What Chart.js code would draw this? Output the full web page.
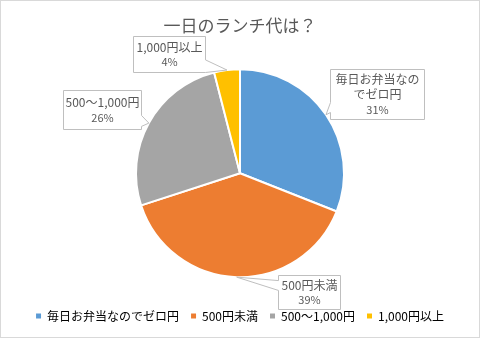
<!DOCTYPE html>
<html>
<head>
<meta charset="utf-8">
<script src="https://cdn.jsdelivr.net/npm/chart.js@4"></script>
<style>
  html, body { margin: 0; padding: 0; background: #fff; }
  #wrap { width: 480px; height: 338px; position: relative; }
</style>
</head>
<body>
<div id="wrap"><canvas id="pie" width="480" height="338"></canvas></div>
<script>
// lunch budget pie

const titleText = '一日のランチ代は？';
const categories = ['毎日お弁当なのでゼロ円', '500円未満', '500～1,000円', '1,000円以上'];
const calloutNames = [['毎日お弁当なの', 'でゼロ円'], ['500円未満'], ['500～1,000円'], ['1,000円以上']];
const values = [31, 39, 26, 4];
const colors = ['#5B9BD5', '#ED7D31', '#A5A5A5', '#FFC000'];

const FONT = "'Noto Sans CJK JP', 'Noto Sans', sans-serif";
const TEXT = '#595959';

// callout box placement relative to the slice tip (styling, not data)
const calloutBoxes = [
  { dx: 4,   dy: -46, w: 94, h: 50, side: 'left',  b0: 0.66, b1: 0.86 },
  { dx: 41,  dy: -2,  w: 62, h: 34, side: 'left',  b0: 0.15, b1: 0.44 },
  { dx: -86, dy: -33, w: 78, h: 39, side: 'right', b0: 0.64, b1: 0.92 },
  { dx: -94, dy: -34, w: 72, h: 36, side: 'right', b0: 0.65, b1: 1.0 }
];

const frame = {
  id: 'frame',
  beforeDraw(chart) {
    const ctx = chart.ctx;
    ctx.save();
    ctx.fillStyle = '#fff';
    ctx.fillRect(0, 0, chart.width, chart.height);
    ctx.strokeStyle = '#d9d9d9';
    ctx.lineWidth = 1;
    ctx.strokeRect(0.5, 0.5, chart.width - 1, chart.height - 1);
    ctx.restore();
  }
};

const callouts = {
  id: 'callouts',
  afterDatasetsDraw(chart) {
    const ctx = chart.ctx;
    const meta = chart.getDatasetMeta(0);
    const total = values.reduce((a, b) => a + b, 0);
    ctx.save();
    meta.data.forEach((arc, i) => {
      const p = arc.getProps(['x', 'y', 'startAngle', 'endAngle', 'outerRadius'], true);
      const mid = (p.startAngle + p.endAngle) / 2;
      const tx = p.x + Math.cos(mid) * p.outerRadius;
      const ty = p.y + Math.sin(mid) * p.outerRadius;
      const b = calloutBoxes[i];
      const L = Math.round(tx + b.dx) + 0.5, T = Math.round(ty + b.dy) + 0.5;
      const R = L + b.w, B = T + b.h;
      ctx.beginPath();
      if (b.side === 'left') {
        ctx.moveTo(L, T); ctx.lineTo(R, T); ctx.lineTo(R, B); ctx.lineTo(L, B);
        ctx.lineTo(L, T + b.h * b.b1); ctx.lineTo(tx, ty); ctx.lineTo(L, T + b.h * b.b0);
      } else {
        ctx.moveTo(L, T); ctx.lineTo(R, T); ctx.lineTo(R, T + b.h * b.b0); ctx.lineTo(tx, ty);
        ctx.lineTo(R, T + b.h * b.b1); ctx.lineTo(R, B); ctx.lineTo(L, B);
      }
      ctx.closePath();
      ctx.fillStyle = '#fff';
      ctx.fill();
      ctx.strokeStyle = '#bfbfbf';
      ctx.lineWidth = 1;
      ctx.stroke();

      const names = calloutNames[i];
      const lines = names.concat([Math.round(values[i] / total * 100) + '%']);
      const lh = 15;
      ctx.fillStyle = TEXT;
      ctx.textAlign = 'center';
      ctx.textBaseline = 'middle';
      const cx = L + b.w / 2;
      let y = T + b.h / 2 - (lines.length - 1) * lh / 2;
      lines.forEach((t, k) => {
        ctx.font = (k < names.length ? '12px ' : '11px ') + FONT;
        ctx.fillText(t, cx, y);
        y += lh;
      });
    });
    ctx.restore();
  }
};

new Chart(document.getElementById('pie'), {
  type: 'pie',
  data: {
    labels: categories,
    datasets: [{
      data: values,
      backgroundColor: colors,
      borderColor: '#fff',
      borderWidth: 2,
      radius: 104
    }]
  },
  options: {
    responsive: false,
    animation: false,
    events: [],
    layout: { padding: { top: 0, bottom: 6, left: 0, right: 0 } },
    plugins: {
      title: {
        display: true,
        text: titleText,
        color: TEXT,
        font: { family: FONT, size: 17, weight: 'normal' },
        padding: { top: 15, bottom: 13 }
      },
      legend: {
        position: 'bottom',
        labels: {
          color: TEXT,
          font: { family: FONT, size: 12 },
          boxWidth: 5,
          boxHeight: 5,
          padding: 12,
          generateLabels(chart) {
            return categories.map((c, i) => ({
              text: c, fillStyle: colors[i], strokeStyle: colors[i], lineWidth: 0, index: i, hidden: false
            }));
          }
        }
      },
      tooltip: { enabled: false }
    }
  },
  plugins: [frame, callouts]
});
</script>
</body>
</html>
